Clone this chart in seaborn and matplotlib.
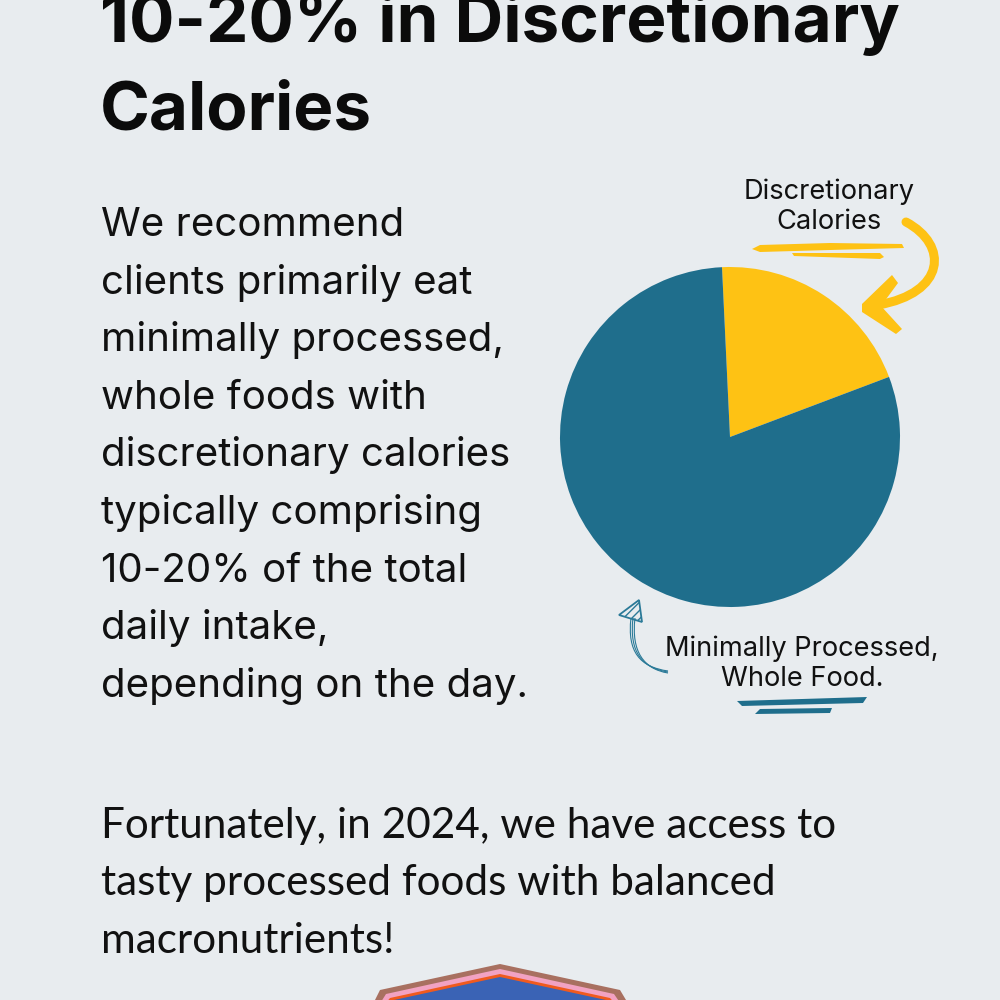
import matplotlib
matplotlib.use("Agg")
import matplotlib.pyplot as plt
from matplotlib.patches import Polygon, PathPatch
from matplotlib.path import Path
import seaborn as sns

# data
slice_labels = ["Discretionary Calories", "Minimally Processed, Whole Food."]
slice_shares = [20, 80]
slice_colors = ["#FEC214", "#1F6E8C"]

title_lines = ["10-20% in Discretionary", "Calories"]
body_lines = ["We recommend", "clients primarily eat", "minimally processed,",
              "whole foods with", "discretionary calories", "typically comprising",
              "10-20% of the total", "daily intake,", "depending on the day."]
footer_lines = ["Fortunately, in 2024, we have access to",
                "tasty processed foods with balanced", "macronutrients!"]
label_top = ["Discretionary", "Calories"]
label_bottom = ["Minimally Processed,", "Whole Food."]

BG = "#E8ECEF"
sns.set_theme(style="white")
plt.rcParams["font.family"] = ["Inter", "DejaVu Sans"]

fig = plt.figure(figsize=(10, 10), dpi=100, facecolor=BG)
bg = fig.add_axes([0, 0, 1, 1])
bg.set_xlim(0, 1000)
bg.set_ylim(1000, 0)
bg.axis("off")
bg.set_facecolor(BG)

# title (top line is cut by the frame, as in the source)
for i, line in enumerate(title_lines):
    bg.text(100, 42 + 88 * i, line, fontsize=48.5, fontweight="bold",
            color="#0B0B0B", va="baseline", ha="left")

# body
for i, line in enumerate(body_lines):
    bg.text(101, 236 + 57.6 * i, line, fontsize=29, color="#111111",
            va="baseline", ha="left")

for i, line in enumerate(footer_lines):
    bg.text(101, 838 + 57.5 * i, line, fontsize=30.4, color="#111111",
            va="baseline", ha="left", family="Lato")

# pie labels
for i, line in enumerate(label_top):
    bg.text(829, 199 + 30 * i, line, fontsize=19.6, ha="center",
            va="baseline", color="#111111")
for i, line in enumerate(label_bottom):
    bg.text(802, 656 + 30 * i, line, fontsize=19.6, ha="center",
            va="baseline", color="#111111")

yel = slice_colors[0]
# yellow scribbles
bg.add_patch(Polygon([(752, 249), (760, 245), (830, 243), (902, 244), (904, 248),
                      (830, 250), (760, 252)], closed=True, color=yel, lw=0))
bg.add_patch(Polygon([(792, 253), (880, 253), (884, 257), (880, 259), (794, 256)],
                     closed=True, color=yel, lw=0))
shaft = Path([(906, 222), (949, 245), (946, 293), (878, 305)],
             [Path.MOVETO, Path.CURVE4, Path.CURVE4, Path.CURVE4])
bg.add_patch(PathPatch(shaft, fc="none", ec=yel, lw=6.5, capstyle="round"))
bg.add_patch(Polygon([(862, 304), (892, 275), (898, 283), (881, 306),
                      (902, 329), (896, 334), (862, 312)], closed=True, color=yel, lw=0))

# blue scribbles
blu = "#2B7A98"
bg.add_patch(Polygon([(737, 701), (867, 697), (863, 703), (742, 706)],
                     closed=True, color=slice_colors[1], lw=0))
bg.add_patch(Polygon([(760, 709), (832, 708), (830, 713), (755, 714)],
                     closed=True, color=slice_colors[1], lw=0))
for dx, dy in [(0, 0), (2, 1), (4, 2)]:
    p = Path([(631 + dx, 618), (627 + dx, 652), (640 + dx, 667 + dy), (668, 671 + dy)],
             [Path.MOVETO, Path.CURVE4, Path.CURVE4, Path.CURVE4])
    bg.add_patch(PathPatch(p, fc="none", ec=blu, lw=0.8))
bg.add_patch(Polygon([(639, 600), (619, 615), (642, 622)], closed=True,
                     fc="none", ec=blu, lw=1.3, hatch="////"))

# bottom badge
bg.add_patch(Polygon([(370, 1010), (380, 990), (500, 964), (620, 990), (632, 1010)],
                     closed=True, color="#A87060", lw=0))
bg.add_patch(Polygon([(376, 1010), (386, 994), (500, 969), (614, 994), (625, 1010)],
                     closed=True, color="#F2A2C2", lw=0))
bg.add_patch(Polygon([(380, 1010), (390, 998), (500, 974), (610, 998), (621, 1010)],
                     closed=True, color="#F05A1E", lw=0))
bg.add_patch(Polygon([(384, 1010), (394, 1000), (500, 977), (606, 1000), (617, 1010)],
                     closed=True, color="#3A63B5", lw=0))

# pie
ax = fig.add_axes([0.56, 0.393, 0.34, 0.34])
ax.pie(slice_shares, colors=slice_colors, startangle=92.7, counterclock=False,
       radius=1, wedgeprops=dict(linewidth=0))
ax.set_xlim(-1, 1)
ax.set_ylim(-1, 1)
ax.set_aspect("equal")
ax.axis("off")

fig.savefig("out.png", dpi=100, facecolor=BG)
